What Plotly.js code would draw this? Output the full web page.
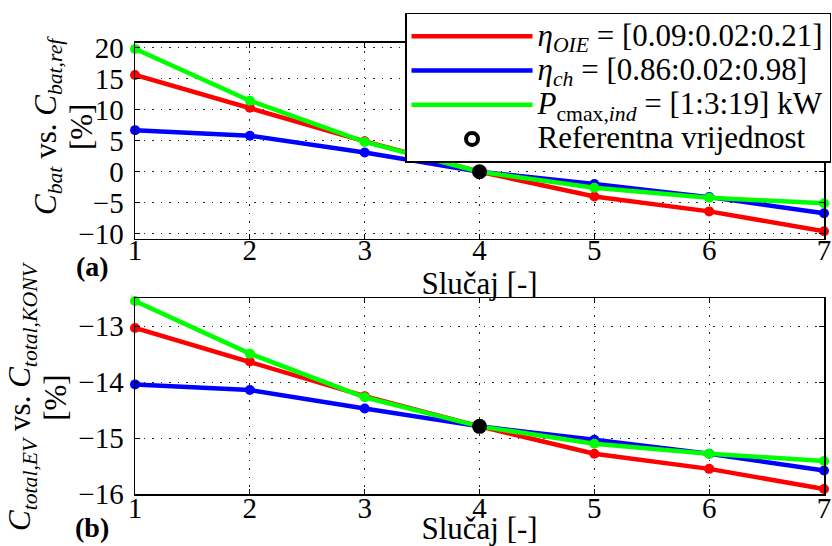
<!DOCTYPE html>
<html>
<head>
<meta charset="utf-8">
<script src="https://cdn.plot.ly/plotly-3.0.1.min.js"></script>
<style>html,body{margin:0;padding:0;background:#fff;}#chart{width:832px;height:546px;}</style>
</head>
<body>
<div id="chart"></div>
<script>
// ---- data ----
var cases = [1, 2, 3, 4, 5, 6, 7];
var caseLabels = ['1', '2', '3', '4', '5', '6', '7'];

// (a) C_bat vs. C_bat,ref [%]
var capOIE  = [15.6, 10.3, 4.9, 0, -4.0, -6.4, -9.6];
var capCh   = [6.7, 5.8, 3.1, 0, -2.0, -4.1, -6.7];
var capPmax = [19.8, 11.45, 4.8, 0, -2.6, -4.2, -5.1];

// (b) C_total,EV vs. C_total,KONV [%]
var totOIE  = [-13.03, -13.63, -14.25, -14.79, -15.28, -15.55, -15.91];
var totCh   = [-14.04, -14.14, -14.47, -14.79, -15.03, -15.28, -15.58];
var totPmax = [-12.55, -13.49, -14.27, -14.79, -15.10, -15.28, -15.41];

// reference point
var refCase = [4];
var refCap  = [0];
var refTot  = [-14.79];

var seriesNames = [
  '<span style="font-size:31px"><i>η<sub>OIE</sub></i> = [0.09:0.02:0.21]</span>',
  '<span style="font-size:31px"><i>η<sub>ch</sub></i> = [0.86:0.02:0.98]</span>',
  '<span style="font-size:31px"><i>P</i><sub>cmax,<i>ind</i></sub> = [1:3:19] kW</span>',
  '<span style="font-size:31px">Referentna vrijednost</span>'
];
var seriesColors = ['#ff0000', '#0000ff', '#00ff00', '#000000'];
var yTitleA = '<span style="font-size:31px"><i>C<sub>bat</sub></i> vs. <i>C<sub>bat,ref</sub></i><br>[%]</span>';
var yTitleB = '<span style="font-size:31px"><i>C<sub>total,EV</sub></i> vs. <i>C<sub>total,KONV</sub></i><br>[%]</span>';
var xTitle = 'Slučaj [-]';

// ---- traces ----
var FONT = '"Liberation Serif", "Times New Roman", serif';
function lineTrace(x, y, name, color, xa, ya, show) {
  return {
    type: 'scatter', mode: 'lines', x: x, y: y, name: name,
    xaxis: xa, yaxis: ya, showlegend: show, cliponaxis: false,
    line: {color: color, width: 4.5}
  };
}
function markTrace(x, y, color, xa, ya) {
  return {
    type: 'scatter', mode: 'markers', x: x, y: y, hoverinfo: 'skip',
    xaxis: xa, yaxis: ya, showlegend: false, cliponaxis: false,
    marker: {color: color, size: 10, symbol: 'circle'}
  };
}
var traces = [
  lineTrace(cases, capOIE,  seriesNames[0], seriesColors[0], 'x', 'y', true),
  markTrace(cases, capOIE,  seriesColors[0], 'x', 'y'),
  lineTrace(cases, capCh,   seriesNames[1], seriesColors[1], 'x', 'y', true),
  markTrace(cases, capCh,   seriesColors[1], 'x', 'y'),
  lineTrace(cases, capPmax, seriesNames[2], seriesColors[2], 'x', 'y', true),
  markTrace(cases, capPmax, seriesColors[2], 'x', 'y'),
  lineTrace(cases, totOIE,  seriesNames[0], seriesColors[0], 'x2', 'y2', false),
  markTrace(cases, totOIE,  seriesColors[0], 'x2', 'y2'),
  lineTrace(cases, totCh,   seriesNames[1], seriesColors[1], 'x2', 'y2', false),
  markTrace(cases, totCh,   seriesColors[1], 'x2', 'y2'),
  lineTrace(cases, totPmax, seriesNames[2], seriesColors[2], 'x2', 'y2', false),
  markTrace(cases, totPmax, seriesColors[2], 'x2', 'y2'),
  {type: 'scatter', mode: 'markers', x: refCase, y: refCap, xaxis: 'x', yaxis: 'y',
   showlegend: false, cliponaxis: false, marker: {color: '#000', size: 15}},
  {type: 'scatter', mode: 'markers', x: refCase, y: refTot, xaxis: 'x2', yaxis: 'y2',
   showlegend: false, cliponaxis: false, marker: {color: '#000', size: 15}},
  {type: 'scatter', mode: 'markers', x: [null], y: [null], name: seriesNames[3],
   xaxis: 'x', yaxis: 'y', showlegend: true,
   marker: {symbol: 'circle-open', color: '#000', size: 12, line: {width: 4, color: '#000'}}}
];

function xax(anchor, labelShift) {
  return {
    domain: [0.1623, 0.9904], anchor: anchor, range: [1, 7],
    tickvals: cases, ticktext: caseLabels,
    showline: true, linecolor: '#000', linewidth: 1.5, mirror: 'ticks',
    ticks: 'inside', ticklen: 5, tickcolor: '#000',
    showgrid: true, gridcolor: '#222', gridwidth: 1, griddash: '1.5px,7px',
    zeroline: false, automargin: false, ticklabelstandoff: labelShift,
    tickfont: {family: FONT, size: 29, color: '#000'},
    title: {text: xTitle, font: {family: FONT, size: 31, color: '#000'}, standoff: 0}
  };
}
function yax(anchor, domain, range, dtick) {
  return {
    domain: domain, anchor: anchor, range: range, dtick: dtick,
    showline: true, linecolor: '#000', linewidth: 1.5, mirror: 'ticks',
    ticks: 'inside', ticklen: 5, tickcolor: '#000',
    showgrid: true, gridcolor: '#222', gridwidth: 1, griddash: '1.5px,7px',
    zeroline: false, automargin: false, ticklabelstandoff: 4,
    tickfont: {family: FONT, size: 29, color: '#000'}
  };
}

var layout = {
  width: 832, height: 546,
  margin: {l: 0, r: 0, t: 0, b: 0},
  paper_bgcolor: '#fff', plot_bgcolor: '#fff',
  showlegend: true,
  xaxis: xax('y', -15),
  yaxis: yax('x', [0.5623, 0.9218], [-10.85, 20.8], 5),
  xaxis2: xax('y2', -12),
  yaxis2: yax('x2', [0.0952, 0.4537], [-16, -12.5], 1),
  legend: {
    x: 0.4868, y: 0.9767, xanchor: 'left', yanchor: 'top',
    bgcolor: '#fff', bordercolor: '#000', borderwidth: 1.5,
    font: {family: FONT, size: 24, color: '#000'},
    itemwidth: 121, tracegroupgap: 0
  },
  annotations: [
    {text: yTitleA, textangle: -90, xref: 'paper', yref: 'paper', x: 0.0757, y: 0.771,
     xanchor: 'center', yanchor: 'middle', showarrow: false,
     font: {family: FONT, size: 28, color: '#000'}},
    {text: yTitleB, textangle: -90, xref: 'paper', yref: 'paper', x: 0.0445, y: 0.2747,
     xanchor: 'center', yanchor: 'middle', showarrow: false,
     font: {family: FONT, size: 28, color: '#000'}},
    {text: '<b>(a)</b>', xref: 'paper', yref: 'paper', x: 0.111, y: 0.511,
     xanchor: 'center', yanchor: 'middle',
     showarrow: false, font: {family: FONT, size: 28, color: '#000'}},
    {text: '<b>(b)</b>', xref: 'paper', yref: 'paper', x: 0.111, y: 0.033,
     xanchor: 'center', yanchor: 'middle',
     showarrow: false, font: {family: FONT, size: 28, color: '#000'}}
  ]
};

Plotly.newPlot('chart', traces, layout, {displayModeBar: false, staticPlot: true});
</script>
</body>
</html>
